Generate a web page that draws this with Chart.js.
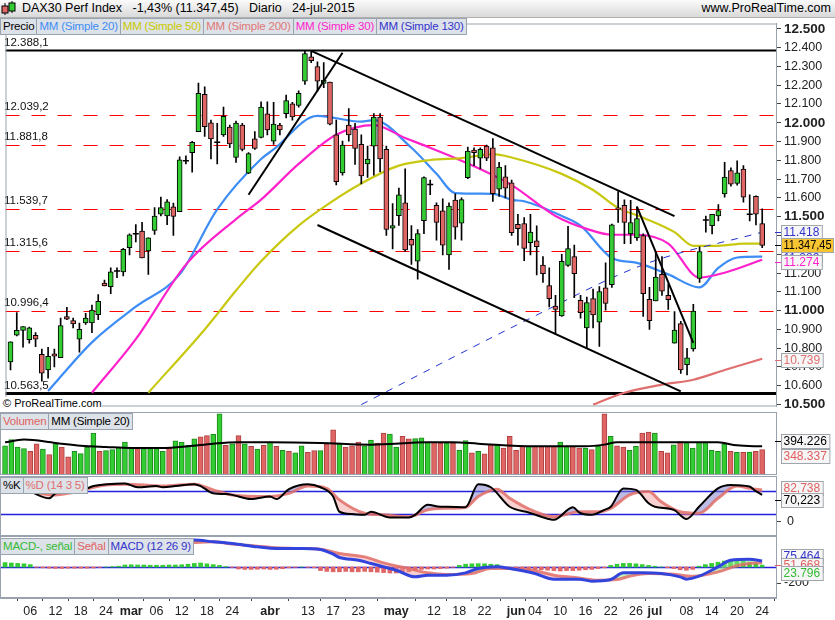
<!DOCTYPE html>
<html><head><meta charset="utf-8">
<script src="https://cdn.jsdelivr.net/npm/chart.js@4.4.1/dist/chart.umd.min.js"></script>
<style>
body{margin:0;width:835px;height:620px;background:#fff;font-family:"Liberation Sans",Arial,sans-serif;overflow:hidden;position:relative}
.pnl{position:absolute;left:0;width:835px}
.legend{position:absolute;left:0;display:flex;font-size:11.5px;z-index:2}
.legend span{background:#dde2e8;border:1px solid #9aa4ae;border-left:none;padding:0 2px;line-height:15px;letter-spacing:-0.2px}
.legend span:first-child{border-left:1px solid #9aa4ae}
#header{position:absolute;left:0;top:0;width:835px;height:17px;background:linear-gradient(#fbfbfb,#d9d9d9);font-size:12.5px;line-height:17px;border-bottom:1px solid #b0b0b0}
#copy{position:absolute;left:3px;top:397px;font-size:11px;z-index:2;background:#fff}
</style></head><body>
<div id="header"><span style="display:inline-block;width:20px;vertical-align:middle">
<svg width="18" height="16"><line x1="5" y1="3" x2="5" y2="15" stroke="#000"/><rect x="2" y="6" width="6" height="7" fill="#e06666" stroke="#000"/><line x1="12" y1="1" x2="12" y2="13" stroke="#000"/><rect x="9" y="3" width="6" height="8" fill="#33cc33" stroke="#000"/></svg></span><span style="position:absolute;left:22px">DAX30 Perf Index &nbsp;&nbsp;-1,43% (11.347,45) &nbsp;&nbsp;Diario &nbsp;&nbsp;24-jul-2015</span><span style="position:absolute;right:4px">www.ProRealTime.com</span></div>
<div class="legend" style="top:18px"><span>Precio</span><span style="color:#3d8df5">MM (Simple 20)</span><span style="color:#c8c800">MM (Simple 50)</span><span style="color:#e07777">MM (Simple 200)</span><span style="color:#ff22cc">MM (Simple 30)</span><span style="color:#3333cc">MM (Simple 130)</span></div>
<div class="legend" style="top:413px"><span style="color:#e06060">Volumen</span><span>MM (Simple 20)</span></div>
<div class="legend" style="top:477px"><span>%K</span><span style="color:#e07070">%D (14 3 5)</span></div>
<div class="legend" style="top:538px"><span style="color:#33bb33">MACD-, señal</span><span style="color:#e06060">Señal</span><span style="color:#3333cc">MACD (12 26 9)</span></div>
<div id="copy">© ProRealTime.com</div>
<div class="pnl" style="top:18px;height:394px"><canvas id="cMain" width="835" height="394"></canvas></div>
<div class="pnl" style="top:412px;height:63px"><canvas id="cVol" width="835" height="63"></canvas></div>
<div class="pnl" style="top:476px;height:60px"><canvas id="cSto" width="835" height="60"></canvas></div>
<div class="pnl" style="top:536px;height:84px"><canvas id="cMacd" width="835" height="84"></canvas></div>
<script>
const dates=['02-02','03-02','04-02','05-02','06-02','09-02','10-02','11-02','12-02','13-02','16-02','17-02','18-02','19-02','20-02','23-02','24-02','25-02','26-02','27-02',
'02-03','03-03','04-03','05-03','06-03','09-03','10-03','11-03','12-03','13-03','16-03','17-03','18-03','19-03','20-03','23-03','24-03','25-03','26-03','27-03','30-03','31-03',
'01-04','02-04','07-04','08-04','09-04','10-04','13-04','14-04','15-04','16-04','17-04','20-04','21-04','22-04','23-04','24-04','27-04','28-04','29-04','30-04',
'04-05','05-05','06-05','07-05','08-05','11-05','12-05','13-05','14-05','15-05','18-05','19-05','20-05','21-05','22-05','26-05','27-05','28-05','29-05',
'01-06','02-06','03-06','04-06','05-06','08-06','09-06','10-06','11-06','12-06','15-06','16-06','17-06','18-06','19-06','22-06','23-06','24-06','25-06','26-06','29-06','30-06',
'01-07','02-07','03-07','06-07','07-07','08-07','09-07','10-07','13-07','14-07','15-07','16-07','17-07','20-07','21-07','22-07','23-07','24-07'];
const tickDates=['06-02','12-02','18-02','24-02','02-03','06-03','12-03','18-03','24-03','01-04','13-04','17-04','23-04','04-05','12-05','18-05','22-05','01-06','04-06','10-06','16-06','22-06','26-06','01-07','08-07','14-07','20-07','24-07'];
const tickTexts=['06','12','18','24','mar','06','12','18','24','abr','13','17','23','may','12','18','22','jun','04','10','16','22','26','jul','08','14','20','24'];
const opens=[10727,10869,10895,10845,10869,10767,10684,10770,10750,10969,10947,10848,10934,10934,10978,11147,11128,11211,11206,11335,11409,11423,11318,11427,11513,11504,11553,11527,11798,11841,11953,12152,12000,11896,11936,11977,11815,11988,11732,11914,11922,12048,11902,11988,12049,12101,12092,12221,12351,12299,12209,12216,11936,11733,11988,11967,11885,11781,11876,12031,11859,11439,11505,11574,11379,11263,11479,11672,11560,11531,11297,11588,11465,11708,11855,11812,11876,11867,11646,11712,11681,11460,11464,11362,11371,11242,11133,11024,10972,11241,11288,11055,10908,11064,10939,11121,11138,11547,11561,11409,11387,11400,11060,11052,11193,11081,10827,10931,10713,10796,11172,11483,11452,11504,11621,11746,11677,11754,11513,11608,11464];
const highs=[10834,10990,10915,10912,10883,10796,10805,10796,10960,11017,10960,10934,10986,11029,11085,11162,11228,11228,11332,11409,11458,11470,11387,11548,11604,11591,11573,11819,11824,11901,12212,12192,12014,11997,12083,11988,12009,11997,11841,11953,12112,12112,12109,11997,12147,12109,12170,12382,12382,12325,12320,12216,12014,11902,12075,11997,11936,11876,12049,12049,11876,11570,11652,11755,11453,11432,11712,11695,11574,11595,11574,11622,11600,11871,11867,11867,11881,11916,11790,11772,11695,11513,11495,11513,11452,11288,11228,11081,11300,11449,11349,11081,11072,11115,11128,11254,11461,11634,11590,11587,11552,11409,11124,11314,11288,11141,10995,10943,10799,11034,11340,11504,11513,11564,11789,11760,11798,11772,11616,11611,11542];
const lows=[10684,10865,10805,10827,10808,10624,10641,10701,10750,10952,10908,10779,10926,10883,10952,11131,11090,11176,11185,11297,11366,11280,11193,11406,11504,11458,11401,11527,11781,11737,11953,11927,11807,11781,11927,11867,11789,11850,11729,11858,11919,11936,11885,11936,12026,12014,12083,12204,12320,12170,12187,11988,11669,11721,11902,11778,11674,11709,11721,11738,11401,11329,11453,11315,11246,11168,11410,11617,11375,11297,11220,11380,11375,11703,11772,11755,11798,11582,11608,11600,11401,11349,11266,11297,11190,11150,11020,10874,10969,11236,11069,10960,10799,10908,10810,11003,11124,11469,11357,11357,11374,10969,10900,11052,11081,11007,10827,10666,10658,10784,11150,11418,11409,11478,11604,11663,11668,11577,11478,11456,11335];
const closes=[10834,10895,10915,10909,10848,10667,10757,10757,10921,10955,10929,10900,10960,11003,11050,11131,11206,11211,11326,11404,11409,11280,11387,11504,11548,11579,11501,11803,11798,11896,12157,11979,11914,11896,12035,11888,11998,11858,11836,11864,12083,11962,11993,11962,12118,12031,12157,12368,12330,12221,12227,11993,11686,11881,11936,11864,11717,11807,12031,11807,11432,11453,11617,11323,11349,11410,11708,11672,11470,11349,11556,11444,11591,11850,11841,11859,11812,11622,11764,11652,11415,11436,11331,11418,11340,11197,11064,11007,11262,11331,11197,10989,11043,10977,11102,11038,11457,11539,11469,11469,11490,11090,10946,11179,11103,11058,10896,10684,10749,10998,11314,11483,11513,11533,11711,11673,11734,11604,11513,11513,11347.45];
// volume in thousands
const volumes=[402.5,488,384.5,362,326,429.5,357.5,281,429.5,384.5,249.5,326,294.5,380,578,326,335,348.5,380,452,371,362,362,362,362,326,384.5,470,452,407,497,524,542,560,843.5,407,429.5,542,429.5,393.5,357.5,407,452,393.5,339.5,326,303.5,402.5,312.5,335,335,429.5,623,438.5,384.5,402.5,452,402.5,479,438.5,578,564.5,384.5,533,497,501.5,510.5,452,452,438.5,438.5,438.5,339.5,474.5,303.5,326,290,425,425,371,533,339.5,393.5,393.5,393.5,393.5,393.5,393.5,452,393.5,393.5,371,371,348.5,393.5,843.5,533,402.5,384.5,339.5,393.5,578,591.5,578,326,303.5,416,461,452,371,452,452,339.5,326,425,326,312.5,312.5,317,326,348.337];
const volMa20=[[0,450],[3,487],[8,441],[12,404],[16,386],[20,372],[25,372],[29,395],[33,431],[37,450],[42,450],[50,441],[58,418],[67,450],[71,450],[75,431],[84,395],[92,395],[95,418],[97,450],[105,450],[113,450],[116,408],[120,394.226]];
const ma20=[[6,10572],[13,10831],[20,11021],[27,11193],[33,11539],[40,11807],[42,11858],[49,12037],[56,12006],[58,12014],[64,11867],[68,11729],[71,11626],[77,11622],[80,11590],[82,11582],[88,11504],[91,11452],[96,11280],[100,11254],[105,11193],[110,11124],[113,11228],[116,11283],[120,11288]];
const ma30=[[13,10563],[20,10848],[28,11245],[36,11487],[40,11591],[46,11781],[52,11936],[58,11988],[63,11919],[67,11867],[72,11798],[80,11668],[87,11504],[92,11435],[96,11404],[100,11404],[105,11357],[110,11176],[114,11202],[120,11271]];
const ma50=[[22,10563],[31,10900],[36,11107],[40,11263],[46,11453],[51,11574],[56,11677],[62,11772],[67,11802],[72,11812],[77,11833],[80,11815],[88,11728],[93,11642],[97,11547],[101,11495],[106,11418],[109,11345],[113,11345],[117,11357],[120,11357]];
const ma130=[[56,10500],[82,10943],[101,11244],[120,11418]];
const ma200=[[93,10500],[98,10563],[104,10606],[109,10632],[114,10684],[120,10744]];
const trend1=[[38,11617],[53,12373]], trend2=[[48,12383],[106,11503]], trend3=[[49,11456],[107,10570]], trend4=[[100,11554],[109,10829]];
const levels=[12388.1,12039.2,11881.8,11539.7,11315.6,10996.4,10563.5];
const levelTexts=['12.388,1','12.039,2','11.881,8','11.539,7','11.315,6','10.996,4','10.563,5'];
const stochK=[[4,78.6],[7,61],[8,74],[10,78.6],[13,87],[14,93],[19,100],[21,90],[24,93],[25,90],[27,93],[30,98],[31,93],[33,74],[35,72],[36,70],[39,59],[42,66],[43,59],[45,85],[48,98],[50,90],[52,66],[53,26],[55,20],[57,18],[58,26],[61,11],[64,11],[65,18],[67,44],[69,39],[70,39],[73,38],[75,98],[77,90],[80,39],[83,24],[85,13],[87,5],[90,38],[91,24],[93,18],[95,31],[96,39],[98,87],[100,83],[102,48],[103,39],[106,31],[108,7],[110,39],[113,87],[115,96],[118,92],[119,80],[120,70.223]];
const stochD=[[4,78.6],[8,70],[10,74],[16,96],[19,98],[25,93],[30,98],[33,83],[36,70],[42,66],[45,74],[48,93],[51,87],[53,57],[57,22],[60,18],[64,13],[67,31],[70,35],[73,38],[75,66],[78,85],[80,61],[84,26],[87,13],[91,26],[94,26],[96,35],[99,70],[102,79],[104,52],[107,26],[110,22],[113,61],[116,93],[118,87],[120,82.738]];
const macdLine=[[29,315],[30,336],[33,315],[36,294],[40,252],[43,231],[47,231],[50,219],[52,160],[53,119],[56,85],[58,44],[62,-40],[65,-123],[67,-102],[70,-102],[73,-73],[75,-19],[78,2],[80,-19],[84,-81],[87,-152],[91,-152],[93,-177],[96,-157],[98,-73],[101,-73],[104,-81],[107,-123],[108,-152],[110,-115],[113,2],[115,85],[118,98],[120,75.464]];
const signalLine=[[29,302],[33,315],[36,286],[40,261],[43,240],[47,231],[50,223],[53,169],[57,127],[60,52],[64,-19],[67,-73],[70,-94],[74,-81],[77,-19],[80,-19],[84,-48],[87,-102],[91,-136],[94,-165],[97,-157],[99,-115],[102,-81],[106,-90],[109,-115],[113,-61],[116,15],[118,44],[120,51.668]];
const macdHist=[55,50,45,40,30,-5,-10,-15,-18,-18,-15,-15,-15,-15,-12,-5,0,5,10,25,28,25,25,22,22,22,25,25,28,35,45,50,40,30,20,5,-5,-25,-30,-30,-28,-25,-30,-28,-22,-10,-5,0,-5,-10,-45,-55,-60,-60,-55,-60,-60,-55,-60,-65,-70,-75,-75,-70,-60,-45,-30,-25,-25,-20,-15,-5,20,35,40,42,40,35,30,-10,-25,-35,-40,-40,-38,-35,-40,-45,-50,-45,-45,-40,-35,-30,-20,-10,20,35,45,45,40,30,20,10,0,-10,-20,-35,-40,-30,10,30,45,60,75,80,80,75,60,45,23.796];

Chart.defaults.font.family='"Liberation Sans", Arial, sans-serif';
Chart.defaults.animation=false;
Chart.defaults.plugins.legend.display=false;
Chart.defaults.plugins.tooltip.enabled=false;
const GREEN='#33cc33', RED='#e06666';
const XMIN=-0.8, XMAX=122.2;
const idx=closes.map((_,i)=>i);
const up=idx.map(i=>closes[i]>=opens[i]);
const pts=a=>a.map(p=>({x:p[0],y:p[1]}));
const fmt=v=>{const s=Math.round(v).toString();return s.replace(/\B(?=(\d{3})+(?!\d))/g,'.');};
const fixW=s=>{s.width=59;s.paddingTop=0;s.paddingBottom=0;};
function frame(extra){return {id:'frame',beforeDatasetsDraw(c){const x=c.ctx;x.save();if(extra)extra(c);x.restore();},
 afterDraw(c){const a=c.chartArea,x=c.ctx;x.save();x.strokeStyle='#9aa3ad';x.lineWidth=1;x.strokeRect(a.left+0.5,a.top+0.5,a.right-a.left,a.bottom-a.top-1);x.restore();}};}
function boxes(list){return {id:'boxes',afterDraw(c){const ctx=c.ctx,ys=c.scales.y;ctx.save();
 list.forEach(b=>{const y=Math.round(ys.getPixelForValue(b.v)+(b.dy||0));ctx.font='12px "Liberation Sans"';
 const w=Math.min(ctx.measureText(b.t).width+5,52);const x=c.chartArea.right+5;ctx.fillStyle=b.bg||'#f6f6f6';ctx.fillRect(x,y-7,w,15);
 ctx.strokeStyle='#a0a6ac';ctx.lineWidth=1;ctx.strokeRect(x+.5,y-6.5,w,14);ctx.fillStyle=b.c;ctx.textBaseline='middle';ctx.fillText(b.t,x+2.5,y+1,w-4);
 if(b.mark){ctx.strokeStyle=b.mark;ctx.beginPath();ctx.moveTo(c.chartArea.right-1,y+.5);ctx.lineTo(x,y+.5);ctx.stroke();}});ctx.restore();}};}
function hline(c,v,color,w,dash){const y=Math.round(c.scales.y.getPixelForValue(v))+0.5,x=c.ctx,a=c.chartArea;x.strokeStyle=color;x.lineWidth=w;x.setLineDash(dash||[]);x.beginPath();x.moveTo(a.left,y);x.lineTo(a.right,y);x.stroke();x.setLineDash([]);}
const xHidden={type:'linear',min:XMIN,max:XMAX,offset:false,display:false};
const lineDs=(data,color,w,extra)=>Object.assign({type:'line',data:pts(data),borderColor:color,borderWidth:w,pointRadius:0,cubicInterpolationMode:'monotone',fill:false},extra||{});

// MAIN
new Chart(document.getElementById('cMain'),{
 data:{datasets:[
  lineDs(trend1,'#000',2,{cubicInterpolationMode:'default',order:0}),
  lineDs(trend2,'#000',2,{cubicInterpolationMode:'default',order:0}),
  lineDs(trend3,'#000',2,{cubicInterpolationMode:'default',order:0}),
  lineDs(trend4,'#000',2,{cubicInterpolationMode:'default',order:0}),
  lineDs(ma130,'#2233cc',1,{borderDash:[7,7],order:3}),
  lineDs(ma200,'#e07070',2.2,{order:3}),
  lineDs(ma50,'#c8c810',2.2,{order:3}),
  lineDs(ma30,'#ff22cc',2.2,{order:3}),
  lineDs(ma20,'#3d8df5',2.2,{order:3}),
  {type:'line',data:idx.filter(i=>opens[i]===closes[i]).map(i=>({x:i,y:closes[i]})),showLine:false,pointStyle:'line',pointRadius:3,borderColor:'#000',borderWidth:1.5,order:1},
  {type:'bar',data:idx.map(i=>({x:i,y:[opens[i],closes[i]]})),backgroundColor:idx.map(i=>up[i]?GREEN:RED),borderColor:'#000',borderWidth:1,borderSkipped:false,barThickness:5,grouped:false,order:1},
  {type:'bar',data:idx.map(i=>({x:i,y:[lows[i],highs[i]]})),backgroundColor:'#000',barThickness:1,grouped:false,order:2}
 ]},
 options:{responsive:false,devicePixelRatio:1,layout:{padding:0},
  scales:{x:xHidden,y:{position:'right',min:10489.7,max:12528.5,afterFit:fixW,
   afterBuildTicks(s){const t=[];for(let v=10500;v<=12500;v+=100)t.push({value:v});s.ticks=t;},
   grid:{drawOnChartArea:false,tickLength:5,color:'#444'},border:{color:'#9aa3ad'},
   ticks:{autoSkip:false,padding:3,color:'#222',callback:v=>fmt(v),font:c=>({size:c.tick&&c.tick.value%500===0?13.5:12.5,weight:c.tick&&c.tick.value%500===0?'bold':'normal'})}}}},
 plugins:[frame(c=>{const ctx=c.ctx;levels.forEach((v,k)=>{const black=(k===0||k===levels.length-1);
   hline(c,v,black?'#000':'#ff0000',black?(k===0?2:3):1.2,black?null:[14,12]);
   ctx.fillStyle='#111';ctx.font='11.5px "Liberation Sans"';ctx.textBaseline='bottom';ctx.fillText(levelTexts[k],4,Math.round(c.scales.y.getPixelForValue(v))-(black?1:2));});}),
  boxes([{v:11282,t:'11.282',c:'#3333cc'},{v:11418,t:'11.418',c:'#3333cc',mark:'#3333cc'},{v:11274,t:'11.274',c:'#ff22cc',dy:3,mark:'#ff22cc'},{v:10739,t:'10.739',c:'#e07070',mark:'#e07070'},{v:11347.45,t:'11.347,45',c:'#000',bg:'#f7c531',mark:'#000'}])]
});

// VOLUME
new Chart(document.getElementById('cVol'),{
 data:{datasets:[
  lineDs(volMa20,'#000',2,{order:0}),
  {type:'bar',data:idx.map(i=>({x:i,y:volumes[i]})),backgroundColor:idx.map(i=>up[i]?GREEN:RED),borderColor:idx.map(i=>up[i]?'#1c8a1c':'#b04040'),borderWidth:{left:1,right:1,top:1,bottom:0},barThickness:5,grouped:false,order:1}
 ]},
 options:{responsive:false,devicePixelRatio:1,layout:{padding:0},
  scales:{x:xHidden,y:{position:'right',min:0,max:867,afterFit:fixW,ticks:{display:false},grid:{display:false},border:{color:'#9aa3ad'}}}},
 plugins:[frame(),boxes([{v:394.226,t:'394.226',c:'#000',dy:-5,mark:'#000'},{v:348.337,t:'348.337',c:'#e06060',dy:6}])]
});

// STOCHASTIC
new Chart(document.getElementById('cSto'),{
 data:{datasets:[
  lineDs(stochK,'#000',2,{order:0}),
  lineDs(stochD,'rgba(225,110,105,0.85)',3,{order:1,fill:{target:0,above:'rgba(240,150,150,0.45)',below:'rgba(120,120,200,0.5)'}})
 ]},
 options:{responsive:false,devicePixelRatio:1,layout:{padding:0},
  scales:{x:xHidden,y:{position:'right',min:-37.3,max:119.3,afterFit:fixW,afterBuildTicks(s){s.ticks=[{value:0}];},
   grid:{drawOnChartArea:false,tickLength:5,color:'#444'},border:{color:'#9aa3ad'},ticks:{padding:6,color:'#222',font:{size:12.5}}}}},
 plugins:[frame(c=>{hline(c,80,'#2222dd',1.3);hline(c,20,'#2222dd',1.3);}),
  boxes([{v:82.738,t:'82,738',c:'#e06060',dy:-2},{v:70.223,t:'70,223',c:'#000',dy:5,mark:'#000'}])]
});

// MACD
const tickIdx=tickDates.map(d=>dates.indexOf(d));
new Chart(document.getElementById('cMacd'),{
 data:{datasets:[
  lineDs(macdLine,'#3344dd',3,{order:0}),
  lineDs(signalLine,'rgba(225,110,105,0.85)',3,{order:1,fill:{target:0,above:'rgba(240,150,150,0.45)',below:'rgba(140,230,140,0.55)'}}),
  {type:'bar',data:idx.map(i=>({x:i,y:macdHist[i]})),backgroundColor:idx.map(i=>macdHist[i]>=0?GREEN:RED),barThickness:4,grouped:false,order:2}
 ]},
 options:{responsive:false,devicePixelRatio:1,layout:{padding:0},
  scales:{x:{type:'linear',min:XMIN,max:XMAX,offset:false,position:'bottom',afterFit(s){s.height=22;s.paddingLeft=0;s.paddingRight=0;},
    afterBuildTicks(s){s.ticks=tickIdx.map(v=>({value:v}));},
    grid:{drawOnChartArea:false,tickLength:3,color:'#444'},border:{color:'#9aa3ad'},
    ticks:{autoSkip:false,maxRotation:0,padding:3,color:'#222',callback:(v,k)=>tickTexts[k],
     font:c=>({size:12.5,weight:(c.tick&&/[a-z]/.test(tickTexts[tickIdx.indexOf(c.tick.value)]||''))?'bold':'normal'})}},
   y:{position:'right',min:-387.5,max:387.5,afterFit:fixW,afterBuildTicks(s){s.ticks=[{value:-200}];},
    grid:{drawOnChartArea:false,tickLength:5,color:'#444'},border:{color:'#9aa3ad'},ticks:{padding:3,color:'#222',font:{size:12.5}}}}},
 plugins:[frame(c=>{hline(c,0,'#2222dd',1.3);}),
  boxes([{v:75.464,t:'75.464',c:'#3333cc',dy:-5},{v:51.668,t:'51.668',c:'#e06060',dy:2,mark:'#e06060'},{v:23.796,t:'23.796',c:'#33bb33',dy:8}])]
});
</script>
</body></html>
